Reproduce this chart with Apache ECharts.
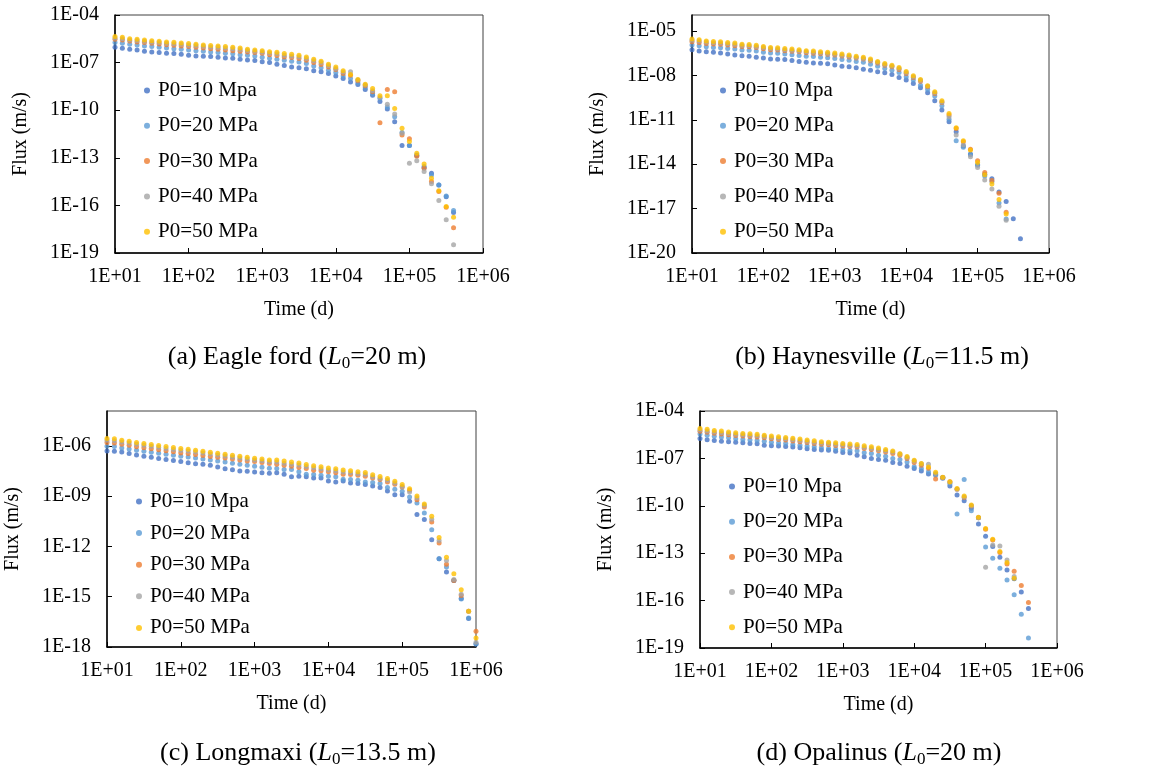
<!DOCTYPE html>
<html lang="en">
<head>
<meta charset="utf-8">
<title>Flux vs time</title>
<script src="https://cdn.jsdelivr.net/npm/echarts@6.0.0/dist/echarts.min.js"></script>
<style>
    html, body { margin: 0; padding: 0; background: #fff; }
    #chart { width: 1157px; height: 775px; }
</style>
</head>
<body>
<div id="chart"></div>
<script type="text/javascript">
    var myChart = echarts.init(document.getElementById('chart'));

    // time steps (d), ten per decade
    var days = [
        10, 12.59, 15.85, 19.95, 25.12, 31.62, 39.81, 50.12, 63.1, 79.43,
        100, 125.9, 158.5, 199.5, 251.2, 316.2, 398.1, 501.2, 631, 794.3,
        1000, 1259, 1585, 1995, 2512, 3162, 3981, 5012, 6310, 7943,
        10000, 12589, 15849, 19953, 25119, 31623, 39811, 50119, 63096, 79433,
        100000, 125893, 158489, 199526, 251189, 316228, 398107, 501187, 630957, 794328,
        1000000
    ];
    var seriesNames = ['P0=10 Mpa', 'P0=20 MPa', 'P0=30 MPa', 'P0=40 MPa', 'P0=50 MPa'];

    // (a) Eagle ford
    var eagle10 = [-6.04,-6.10,-6.16,-6.20,-6.29,-6.33,-6.37,-6.41,-6.43,-6.48,
        -6.54,-6.58,-6.60,-6.62,-6.66,-6.71,-6.73,-6.79,-6.83,-6.87,
        -6.94,-7.00,-7.10,-7.18,-7.27,-7.33,-7.39,-7.52,-7.58,-7.69,
        -7.85,-8.00,-8.23,-8.38,-8.69,-9.05,-9.45,-9.93,-10.73,-12.23,
        -12.22,-12.85,-13.62,-13.97,-14.71,-15.45,-16.44];
    var eagle20 = [-5.74,-5.78,-5.85,-5.89,-5.95,-5.99,-6.04,-6.08,-6.12,-6.16,
        -6.20,-6.25,-6.29,-6.33,-6.37,-6.41,-6.45,-6.50,-6.54,-6.58,
        -6.66,-6.73,-6.79,-6.85,-6.91,-6.97,-7.06,-7.21,-7.33,-7.48,
        -7.62,-7.85,-8.00,-8.27,-8.57,-8.95,-9.26,-9.80,-10.41,-11.40,
        -12.23,-12.82,-13.55,-14.08,-14.71,-15.40,-16.32];
    var eagle30 = [-5.53,-5.57,-5.64,-5.70,-5.74,-5.78,-5.83,-5.87,-5.91,-5.95,
        -5.99,-6.04,-6.08,-6.12,-6.16,-6.20,-6.25,-6.29,-6.33,-6.37,
        -6.41,-6.50,-6.56,-6.64,-6.68,-6.74,-6.85,-6.99,-7.12,-7.27,
        -7.44,-7.69,-7.80,-8.15,-8.46,-8.84,-10.79,-8.69,-8.84,-11.57,
        -11.80,-12.90,-13.66,-14.50,-15.12,-16.11,-17.41];
    var eagle40 = [-5.45,-5.49,-5.57,-5.61,-5.65,-5.70,-5.74,-5.78,-5.81,-5.85,
        -5.89,-5.93,-5.97,-6.01,-6.04,-6.08,-6.12,-6.17,-6.24,-6.28,
        -6.33,-6.39,-6.44,-6.53,-6.58,-6.63,-6.74,-6.88,-7.00,-7.18,
        -7.37,-7.60,-7.58,-8.10,-8.41,-8.78,-9.20,-9.62,-10.24,-11.46,
        -13.34,-13.18,-13.87,-14.64,-15.69,-16.90,-18.48];
    var eagle50 = [-5.36,-5.41,-5.49,-5.53,-5.57,-5.62,-5.66,-5.70,-5.72,-5.76,
        -5.80,-5.85,-5.89,-5.93,-5.95,-5.99,-6.04,-6.08,-6.16,-6.20,
        -6.25,-6.31,-6.35,-6.43,-6.47,-6.53,-6.64,-6.79,-6.91,-7.10,
        -7.27,-7.52,-7.75,-8.06,-8.36,-8.63,-9.09,-9.09,-9.89,-11.14,
        -11.98,-12.72,-13.39,-14.29,-15.08,-16.07,-16.74];
    var eagleTicks = [-19, -16, -13, -10, -7, -4];

    // (b) Haynesville
    var hayn10 = [-6.27,-6.36,-6.40,-6.44,-6.49,-6.56,-6.62,-6.67,-6.71,-6.78,
        -6.82,-6.89,-6.91,-6.93,-7.00,-7.07,-7.11,-7.16,-7.18,-7.22,
        -7.29,-7.38,-7.42,-7.49,-7.58,-7.65,-7.76,-7.83,-7.94,-8.14,
        -8.32,-8.55,-8.84,-9.17,-9.71,-10.34,-11.13,-11.80,-12.77,-13.31,
        -14.05,-14.68,-14.99,-15.88,-16.52,-17.69,-19.04];
    var hayn20 = [-5.95,-6.00,-6.07,-6.11,-6.13,-6.18,-6.22,-6.28,-6.30,-6.35,
        -6.43,-6.49,-6.51,-6.56,-6.60,-6.65,-6.70,-6.73,-6.77,-6.81,
        -6.86,-6.92,-6.98,-7.06,-7.12,-7.24,-7.39,-7.54,-7.66,-7.81,
        -8.10,-8.32,-8.66,-8.95,-9.40,-10.05,-10.97,-12.41,-12.86,-13.37,
        -14.05,-14.79,-15.17,-16.63,-17.71];
    var hayn30 = [-5.72,-5.77,-5.84,-5.88,-5.90,-5.95,-5.99,-6.05,-6.07,-6.12,
        -6.20,-6.26,-6.28,-6.33,-6.37,-6.41,-6.47,-6.50,-6.54,-6.58,
        -6.63,-6.69,-6.75,-6.83,-6.90,-7.01,-7.17,-7.31,-7.42,-7.60,
        -7.87,-8.14,-8.39,-8.77,-9.22,-9.83,-10.68,-11.58,-12.48,-12.99,
        -13.76,-14.56,-15.10,-15.96,-17.24];
    var hayn40 = [-5.63,-5.68,-5.75,-5.79,-5.81,-5.86,-5.90,-5.96,-5.99,-6.04,
        -6.12,-6.18,-6.21,-6.26,-6.30,-6.35,-6.41,-6.44,-6.48,-6.52,
        -6.57,-6.64,-6.70,-6.79,-6.86,-6.97,-7.12,-7.26,-7.38,-7.53,
        -7.81,-8.09,-8.33,-8.74,-9.17,-9.80,-10.79,-12.03,-12.70,-13.49,
        -14.23,-15.06,-15.67,-16.84,-17.78];
    var hayn50 = [-5.54,-5.60,-5.67,-5.71,-5.73,-5.78,-5.82,-5.89,-5.91,-5.96,
        -6.04,-6.11,-6.13,-6.18,-6.22,-6.27,-6.33,-6.36,-6.40,-6.44,
        -6.49,-6.56,-6.62,-6.71,-6.78,-6.90,-7.06,-7.20,-7.32,-7.47,
        -7.74,-8.03,-8.28,-8.70,-9.11,-9.71,-10.57,-11.53,-12.41,-13.04,
        -13.89,-14.72,-15.33,-16.38,-17.36];
    var haynTicks = [-20, -17, -14, -11, -8, -5];

    // (c) Longmaxi
    var long10 = [-6.30,-6.32,-6.36,-6.46,-6.54,-6.62,-6.68,-6.76,-6.82,-6.88,
        -6.94,-7.00,-7.06,-7.10,-7.16,-7.26,-7.36,-7.42,-7.50,-7.52,
        -7.56,-7.60,-7.63,-7.61,-7.69,-7.85,-7.81,-7.85,-7.91,-7.91,
        -8.09,-8.15,-8.09,-8.21,-8.25,-8.31,-8.39,-8.49,-8.69,-8.91,
        -8.91,-9.31,-10.10,-10.40,-11.60,-12.73,-13.53,-14.03,-15.10,-16.30,
        -17.82];
    var long20 = [-6.02,-6.04,-6.12,-6.18,-6.26,-6.32,-6.38,-6.44,-6.50,-6.56,
        -6.62,-6.67,-6.73,-6.79,-6.85,-6.91,-6.97,-7.03,-7.09,-7.16,
        -7.22,-7.27,-7.33,-7.35,-7.41,-7.41,-7.55,-7.69,-7.71,-7.75,
        -7.81,-7.85,-7.99,-8.01,-8.05,-8.15,-8.19,-8.25,-8.49,-8.59,
        -8.71,-9.05,-9.41,-10.00,-11.00,-12.73,-13.23,-14.03,-15.13,-16.27,
        -17.82];
    var long30 = [-5.80,-5.83,-5.91,-5.97,-6.05,-6.11,-6.17,-6.23,-6.29,-6.35,
        -6.42,-6.46,-6.52,-6.58,-6.63,-6.68,-6.73,-6.78,-6.84,-6.90,
        -6.94,-6.99,-7.05,-7.09,-7.15,-7.21,-7.29,-7.35,-7.45,-7.49,
        -7.55,-7.61,-7.69,-7.71,-7.75,-7.81,-7.91,-8.01,-8.15,-8.29,
        -8.45,-8.65,-9.21,-9.65,-10.54,-11.80,-13.07,-14.03,-14.93,-15.87,
        -17.06];
    var long40 = [-5.66,-5.69,-5.77,-5.83,-5.91,-5.97,-6.03,-6.09,-6.15,-6.21,
        -6.27,-6.31,-6.37,-6.43,-6.49,-6.55,-6.61,-6.67,-6.73,-6.79,
        -6.85,-6.89,-6.95,-6.97,-7.03,-7.09,-7.14,-7.23,-7.30,-7.36,
        -7.44,-7.48,-7.56,-7.61,-7.66,-7.71,-7.84,-7.94,-8.05,-8.22,
        -8.42,-8.75,-9.09,-9.55,-10.38,-11.64,-12.84,-13.97,-14.85,-15.87,
        -17.72];
    var long50 = [-5.56,-5.58,-5.66,-5.72,-5.80,-5.86,-5.92,-5.98,-6.04,-6.10,
        -6.16,-6.20,-6.26,-6.32,-6.38,-6.44,-6.50,-6.56,-6.62,-6.68,
        -6.74,-6.78,-6.84,-6.85,-6.91,-6.97,-7.02,-7.11,-7.18,-7.24,
        -7.32,-7.36,-7.44,-7.49,-7.54,-7.59,-7.73,-7.83,-7.95,-8.11,
        -8.31,-8.56,-8.99,-9.47,-10.20,-11.46,-12.64,-13.63,-14.59,-15.87,
        -17.46];
    var longTicks = [-18, -15, -12, -9, -6];

    // (d) Opalinus
    var opal10 = [-5.74,-5.82,-5.86,-5.91,-5.95,-5.97,-6.01,-6.05,-6.07,-6.16,
        -6.20,-6.22,-6.24,-6.28,-6.33,-6.39,-6.43,-6.47,-6.49,-6.54,
        -6.62,-6.66,-6.80,-6.90,-7.01,-7.07,-7.11,-7.26,-7.32,-7.49,
        -7.64,-7.79,-7.99,-8.00,-8.25,-8.75,-9.32,-9.68,-10.16,-11.15,
        -11.93,-12.58,-13.26,-14.06,-14.62,-15.45,-16.50];
    var opal20 = [-5.46,-5.53,-5.60,-5.64,-5.70,-5.75,-5.80,-5.83,-5.86,-5.92,
        -5.97,-6.02,-6.06,-6.12,-6.17,-6.22,-6.27,-6.33,-6.37,-6.41,
        -6.45,-6.50,-6.52,-6.65,-6.69,-6.80,-6.86,-7.01,-7.07,-7.22,
        -7.53,-7.64,-7.85,-8.06,-8.21,-8.60,-10.52,-8.33,-10.31,-10.75,
        -12.60,-13.32,-13.95,-14.69,-15.63,-16.86,-18.37];
    var opal30 = [-5.28,-5.34,-5.41,-5.45,-5.51,-5.55,-5.59,-5.62,-5.65,-5.70,
        -5.75,-5.80,-5.84,-5.90,-5.95,-6.00,-6.05,-6.11,-6.14,-6.18,
        -6.22,-6.25,-6.28,-6.38,-6.44,-6.52,-6.59,-6.69,-6.80,-7.01,
        -7.26,-7.43,-7.62,-8.31,-8.21,-8.48,-8.96,-9.47,-10.02,-10.75,
        -11.49,-12.16,-12.96,-13.68,-14.14,-15.05,-16.12];
    var opal40 = [-5.20,-5.26,-5.33,-5.37,-5.42,-5.47,-5.51,-5.54,-5.56,-5.62,
        -5.67,-5.72,-5.76,-5.82,-5.87,-5.92,-5.97,-6.03,-6.06,-6.10,
        -6.14,-6.18,-6.21,-6.29,-6.35,-6.43,-6.52,-6.60,-6.72,-6.92,
        -7.16,-7.34,-7.37,-7.95,-8.21,-8.52,-8.96,-9.44,-10.00,-10.75,
        -13.89,-12.48,-12.54,-13.43,-14.48];
    var opal50 = [-5.10,-5.16,-5.24,-5.27,-5.33,-5.38,-5.42,-5.44,-5.47,-5.53,
        -5.58,-5.63,-5.67,-5.73,-5.78,-5.83,-5.88,-5.94,-5.97,-6.01,
        -6.05,-6.09,-6.12,-6.20,-6.26,-6.34,-6.44,-6.53,-6.70,-6.88,
        -7.11,-7.32,-7.54,-7.88,-8.19,-8.48,-8.90,-9.38,-9.95,-10.73,
        -11.43,-12.12,-12.90,-13.59,-14.58];
    var opalTicks = [-19, -16, -13, -10, -7, -4];

    var colors = ['#4472C4', '#5B9BD5', '#ED7D31', '#A5A5A5', '#FFC000'];
    var serif = 'Liberation Serif, Times New Roman, serif';

    var panels = [
        { flux: [eagle10, eagle20, eagle30, eagle40, eagle50], ticks: eagleTicks, yMin: -19, yMax: -4,
          grid: { left: 115, top: 15, width: 368, height: 238 },
          legend: { left: 144, top: 80, itemGap: 14.3 },
          caption: { x: 297, y: 357, text: '(a) Eagle ford ({i|L}{s|0}=20 m)' } },
        { flux: [hayn10, hayn20, hayn30, hayn40, hayn50], ticks: haynTicks, yMin: -20, yMax: -3.92,
          grid: { left: 692, top: 15, width: 357, height: 238 },
          legend: { left: 720, top: 80, itemGap: 14.3 },
          caption: { x: 882, y: 357, text: '(b) Haynesville ({i|L}{s|0}=11.5 m)' } },
        { flux: [long10, long20, long30, long40, long50], ticks: longTicks, yMin: -18, yMax: -3.92,
          grid: { left: 107, top: 411, width: 369, height: 236 },
          legend: { left: 136, top: 491, itemGap: 10.6 },
          caption: { x: 298, y: 753, text: '(c) Longmaxi ({i|L}{s|0}=13.5 m)' } },
        { flux: [opal10, opal20, opal30, opal40, opal50], ticks: opalTicks, yMin: -19, yMax: -4,
          grid: { left: 700, top: 411, width: 357, height: 237 },
          legend: { left: 729, top: 476, itemGap: 14.2 },
          caption: { x: 879, y: 753, text: '(d) Opalinus ({i|L}{s|0}=20 m)' } }
    ];

    function expLabel(v) {
        var e = Math.round(v);
        var s = String(Math.abs(e));
        if (s.length < 2) s = '0' + s;
        return '1E' + (e < 0 ? '-' : '+') + s;
    }

    var grids = [], xAxes = [], yAxes = [], legends = [], series = [], graphics = [];

    panels.forEach(function (p, i) {
        grids.push({
            left: p.grid.left, top: p.grid.top, width: p.grid.width, height: p.grid.height,
            show: true, borderColor: '#404040', borderWidth: 1, backgroundColor: 'transparent'
        });
        xAxes.push({
            gridIndex: i, type: 'log', logBase: 10, min: 10, max: 1000000,
            name: 'Time (d)', nameLocation: 'middle', nameGap: 47,
            nameTextStyle: { fontFamily: serif, fontSize: 20, color: '#000' },
            axisLine: { lineStyle: { color: '#000', width: 1.5 } },
            axisTick: { inside: true, length: 5, lineStyle: { color: '#000' } },
            axisLabel: {
                fontFamily: serif, fontSize: 20, color: '#000', margin: 14,
                formatter: function (v) { return expLabel(Math.log10(v)); }
            },
            splitLine: { show: false }, minorTick: { show: false }
        });
        yAxes.push({
            gridIndex: i, type: 'value', min: p.yMin, max: p.yMax, interval: 3,
            name: 'Flux (m/s)', nameLocation: 'middle', nameGap: 84,
            nameTextStyle: { fontFamily: serif, fontSize: 20, color: '#000' },
            axisLine: { show: true, lineStyle: { color: '#000', width: 1.5 } },
            axisTick: { show: true, inside: true, length: 5, customValues: p.ticks, lineStyle: { color: '#000' } },
            axisLabel: {
                fontFamily: serif, fontSize: 20, color: '#000', margin: 16,
                customValues: p.ticks, formatter: expLabel
            },
            splitLine: { show: false }
        });
        legends.push({
            data: seriesNames, orient: 'vertical', left: p.legend.left, top: p.legend.top,
            padding: 0, itemGap: p.legend.itemGap, itemWidth: 6, itemHeight: 6, icon: 'circle',
            selectedMode: false,
            textStyle: { fontFamily: serif, fontSize: 21, color: '#000', lineHeight: 20, padding: [0, 0, 0, 3] }
        });
        p.flux.forEach(function (vals, s) {
            series.push({
                name: seriesNames[s], type: 'scatter', xAxisIndex: i, yAxisIndex: i,
                symbol: 'circle', symbolSize: 5, silent: true,
                itemStyle: { color: colors[s] },
                data: vals.map(function (v, k) { return [days[k], v]; })
            });
        });
        graphics.push({
            type: 'text', x: p.caption.x, y: p.caption.y,
            style: {
                text: p.caption.text, fontFamily: serif, fontSize: 26, lineHeight: 30, fill: '#000',
                align: 'center', verticalAlign: 'middle',
                rich: {
                    i: { fontFamily: serif, fontSize: 26, fontStyle: 'italic', lineHeight: 30 },
                    s: { fontFamily: serif, fontSize: 17, lineHeight: 14, verticalAlign: 'bottom' }
                }
            }
        });
    });

    myChart.setOption({
        animation: false,
        backgroundColor: '#fff',
        color: colors,
        grid: grids,
        xAxis: xAxes,
        yAxis: yAxes,
        legend: legends,
        series: series,
        graphic: graphics
    });
</script>
</body>
</html>
